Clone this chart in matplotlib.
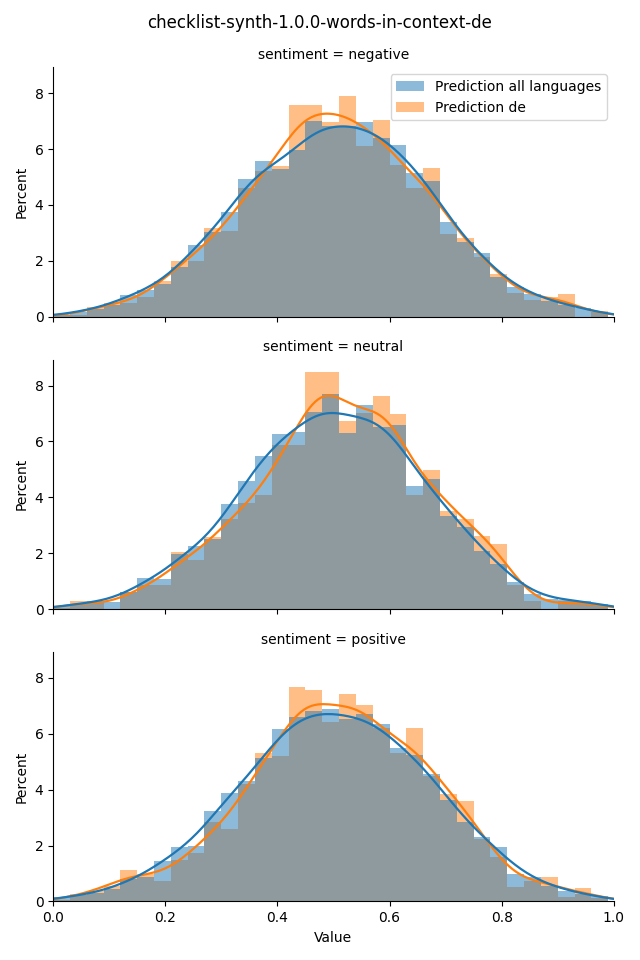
import numpy as np
import pandas as pd
import matplotlib
matplotlib.use("Agg")
import matplotlib.pyplot as plt
from matplotlib.patches import Patch
import seaborn as sns

# 33 bins of width 0.03 starting at 0
BIN_WIDTH = 0.03
N_BINS = 33
bin_centers = (np.arange(N_BINS) + 0.5) * BIN_WIDTH

sentiments = ["negative", "neutral", "positive"]
models = ["Prediction all languages", "Prediction de"]

# percent per bin
neg_all = [0.07, 0.18, 0.27, 0.43, 0.77, 0.96, 1.18, 1.80, 2.57, 3.04, 3.75,
           4.93, 5.60, 5.30, 6.00, 7.04, 6.86, 6.86, 7.00, 6.40, 6.18, 5.15,
           4.89, 3.39, 2.68, 2.30, 1.42, 1.05, 0.82, 0.55, 0.43, 0.31, 0.15]
neg_de = [0.05, 0.07, 0.35, 0.48, 0.49, 0.70, 1.27, 2.00, 2.00, 3.17, 3.07,
          4.62, 5.23, 5.42, 7.58, 7.58, 6.98, 7.93, 6.14, 7.07, 5.43, 4.62,
          5.32, 2.98, 2.82, 2.14, 1.54, 0.85, 0.61, 0.70, 0.82, 0.00, 0.22]

neu_all = [0.10, 0.19, 0.28, 0.25, 0.60, 1.11, 1.08, 1.96, 2.26, 2.51, 3.76,
           4.58, 5.48, 6.26, 6.32, 7.04, 7.69, 6.30, 7.30, 6.52, 6.58, 4.40,
           4.64, 3.31, 2.94, 2.08, 1.61, 0.96, 0.54, 0.35, 0.33, 0.30, 0.19]
neu_de = [0.03, 0.28, 0.27, 0.00, 0.62, 0.87, 0.87, 2.04, 1.77, 2.60, 3.23,
          3.80, 4.08, 5.87, 5.87, 8.48, 8.48, 6.73, 7.02, 7.62, 7.00, 4.08,
          4.98, 3.51, 3.23, 2.61, 2.33, 0.87, 0.30, 0.00, 0.30, 0.27, 0.13]

pos_all = [0.15, 0.22, 0.29, 0.43, 0.79, 0.89, 1.46, 1.94, 1.98, 3.25, 3.89,
           4.32, 5.15, 6.18, 6.62, 6.86, 6.90, 6.54, 6.74, 6.39, 5.52, 5.25,
           4.58, 3.64, 2.87, 2.30, 1.96, 1.00, 0.88, 0.55, 0.39, 0.27, 0.19]
pos_de = [0.06, 0.25, 0.37, 0.55, 1.12, 0.98, 0.75, 1.50, 1.75, 2.86, 2.60,
          4.20, 5.32, 5.23, 7.68, 7.58, 6.44, 7.43, 7.06, 6.23, 5.33, 6.21,
          4.50, 3.86, 3.61, 2.25, 1.60, 0.51, 0.75, 0.88, 0.15, 0.49, 0.13]

series = {
    "negative": (neg_all, neg_de),
    "neutral": (neu_all, neu_de),
    "positive": (pos_all, pos_de),
}


def main():
    fig, axes = plt.subplots(3, 1, figsize=(6.4, 9.6), sharex=True, sharey=True)

    for ax, sentiment in zip(axes, sentiments):
        all_vals, de_vals = series[sentiment]
        df = pd.DataFrame({
            "Value": np.concatenate([bin_centers, bin_centers]),
            "weight": np.concatenate([all_vals, de_vals]),
            "model": [models[0]] * N_BINS + [models[1]] * N_BINS,
        })
        sns.histplot(data=df, x="Value", weights="weight", hue="model",
                     hue_order=models, binwidth=BIN_WIDTH,
                     binrange=(0, N_BINS * BIN_WIDTH), stat="percent",
                     common_norm=False, kde=True,
                     kde_kws={"bw_adjust": 0.41, "cut": 3, "clip": (0, 1)},
                     line_kws={"linewidth": 1.6},
                     linewidth=0, legend=False, ax=ax)
        ax.set_title(f"sentiment = {sentiment}", fontsize=10)
        ax.set_ylabel("Percent")
        ax.set_xlabel("")
        ax.spines["top"].set_visible(False)
        ax.spines["right"].set_visible(False)

    axes[-1].set_xlabel("Value")
    axes[0].set_xlim(0, 1)
    axes[0].set_ylim(0, 8.93)
    axes[0].set_yticks([0, 2, 4, 6, 8])

    handles = [Patch(facecolor="C0", alpha=0.5), Patch(facecolor="C1", alpha=0.5)]
    axes[0].legend(handles, models, loc="upper right")

    fig.suptitle("checklist-synth-1.0.0-words-in-context-de", fontsize=12, y=0.985)
    plt.subplots_adjust(left=0.083, right=0.959, top=0.930, bottom=0.061, hspace=0.172)
    plt.savefig("out.png", dpi=100)


if __name__ == "__main__":
    main()
